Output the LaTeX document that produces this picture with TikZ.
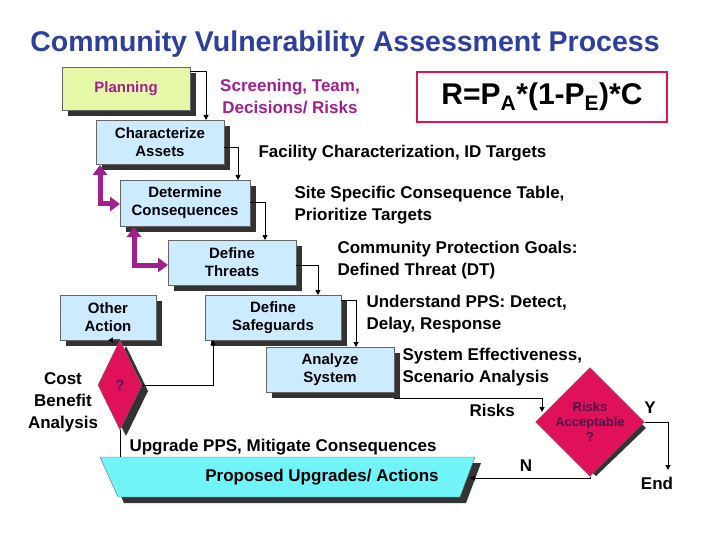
\documentclass[tikz,border=0pt]{standalone}
\usepackage{fontspec}
\setmainfont{Liberation Sans}
\usetikzlibrary{shapes.geometric,arrows.meta,calc}
\definecolor{boxblue}{HTML}{CCEBFF}
\definecolor{boxgreen}{HTML}{E6F7A8}
\definecolor{titleblue}{HTML}{2E3F9C}
\definecolor{mag}{HTML}{A0208F}
\definecolor{rosered}{HTML}{E0105A}
\definecolor{trapcyan}{HTML}{70F4F8}
\tikzset{
  box/.style={draw=black!60,line width=0.4pt,align=center,font=\bfseries\fontsize{15}{18}\selectfont,inner sep=0pt},
  shad/.style={fill=black!80},
  lab/.style={align=left,anchor=west,font=\bfseries\fontsize{17}{22}\selectfont},
  con/.style={line width=1pt,-{Triangle[length=5pt,width=5pt]}},
  magarr/.style={draw=mag,line width=5pt,{Triangle[length=10pt,width=14pt]}-{Triangle[length=10pt,width=14pt]}},
}
\newcommand{\mybox}[7]{% name, x1,y1,x2,y2, fill, text
  \fill[shad] (#2+6,#3+6) rectangle (#4+6,#5+6);
  \node[box,fill=#6,minimum width=#4-#2,minimum height=#5-#3] (#1) at ({(#2+#4)/2},{(#3+#5)/2}) {#7};
}
\begin{document}
\begin{tikzpicture}[x=1pt,y=-1pt]
\useasboundingbox (0,0) rectangle (720,540);
\node[font=\bfseries\fontsize{28.5}{32}\selectfont,text=titleblue] (title) at (345,44) {Community Vulnerability Assessment Process};

\mybox{plan}{62}{67}{190}{110}{boxgreen}{\textcolor{mag}{Planning}}
\mybox{char}{96}{120}{224}{164}{boxblue}{Characterize\\Assets}
\mybox{det}{120}{180}{250}{226}{boxblue}{Determine\\Consequences}
\mybox{thr}{168}{240}{296}{285}{boxblue}{Define\\Threats}
\mybox{oth}{60}{295}{156}{340}{boxblue}{Other\\Action}
\mybox{saf}{205}{295}{341}{340}{boxblue}{Define\\Safeguards}
\mybox{ana}{266}{347}{394}{392}{boxblue}{Analyze\\System}

% formula
\node[draw=rosered,line width=1.5pt,minimum width=250,minimum height=50,font=\bfseries\fontsize{30}{32}\selectfont] (formula) at (542,97) {R=P$_{\mathbf{A}}$*(1-P$_{\mathbf{E}}$)*C};

% diamonds
\fill[shad] (126,346) -- (148,391) -- (126,436) -- (104,391) -- cycle;
\node[diamond,fill=rosered,draw=black!60,minimum width=44,minimum height=90,inner sep=0pt,font=\fontsize{15}{15}\selectfont\bfseries,text=mag!60!black] (q) at (120,385) {?};
\fill[shad] (596,381) -- (646,428) -- (596,476) -- (546,428) -- cycle;
\node[diamond,fill=rosered,draw=black!60,minimum width=100,minimum height=95,inner sep=0pt,align=center,font=\bfseries\fontsize{13}{15}\selectfont,text=mag!50!black] (ra) at (590,422) {Risks\\Acceptable\\?};

% trapezoid
\fill[shad] (106,463) -- (481,463) -- (466,503) -- (124,503) -- cycle;
\draw[fill=trapcyan,draw=black!60] (100,457) -- (475,457) -- (460,497) -- (118,497) -- cycle;
\node[font=\bfseries\fontsize{17}{18}\selectfont] (prop) at (322,477) {Proposed Upgrades/ Actions};
\coordinate (trtop) at (120,457);
\coordinate (trright) at (470,478);

% labels
\node[lab,text=mag,anchor=center,align=center] (scr) at (290,97) {Screening, Team,\\Decisions/ Risks};
\node[lab] (fac) at (255,153) {Facility Characterization, ID Targets};
\node[lab] (site) at (291,205) {Site Specific Consequence Table,\\Prioritize Targets};
\node[lab] (comm) at (334,260) {Community Protection Goals:\\Defined Threat (DT)};
\node[lab] (und) at (363,314) {Understand PPS: Detect,\\Delay, Response};
\node[lab] (sys) at (399,367) {System Effectiveness,\\Scenario Analysis};
\node[lab] (risks) at (466,410) {Risks};
\node[lab] (upg) at (126,447) {Upgrade PPS, Mitigate Consequences};
\node[align=center,font=\bfseries\fontsize{17}{22}\selectfont] (cba) at (63,402) {Cost\\Benefit\\Analysis};
\node[font=\bfseries\fontsize{17}{18}\selectfont] (Y) at (650,408) {Y};
\node[font=\bfseries\fontsize{17}{18}\selectfont] (N) at (526,466) {N};
\node[font=\bfseries\fontsize{17}{18}\selectfont] (End) at (657,483) {End};

% connectors
\draw[con] (190,72) -| (206,120);
\draw[con] (224,148) -| (238,180);
\draw[con] (250,203) -| (265,240);
\draw[con] (296,265) -| (318,295);
\draw[con] (341,300) -| (356,347);
\draw[con] (q.north) -- (oth.south);
\draw[con] (q.east) -| (213,340);
\draw[line width=1pt] (trtop) -- (q.south);
\draw[con] (394,398) -| (542,412);
\draw[con] (ra.east) -| (668,470);
\draw[con] (ra.south) |- (trright);

\draw[magarr] (100,165) |- (120,204);
\draw[magarr] (134,227) |- (168,265);
\end{tikzpicture}
\end{document}
